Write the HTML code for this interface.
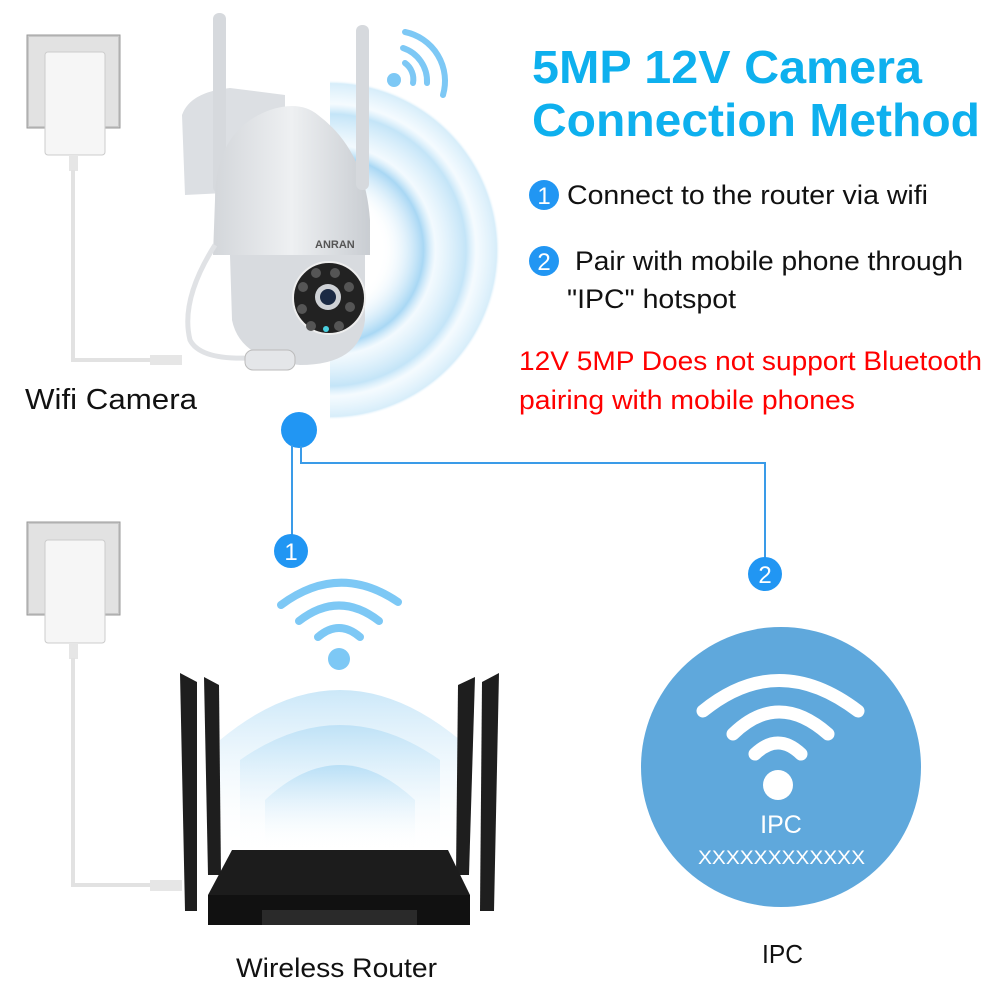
<!DOCTYPE html>
<html><head><meta charset="utf-8"><style>
html,body{margin:0;padding:0;background:#fff;}
svg{display:block;font-family:"Liberation Sans",Arial,sans-serif;}
</style></head><body>
<svg width="1000" height="1000" viewBox="0 0 1000 1000" xmlns="http://www.w3.org/2000/svg">
<defs>
<radialGradient id="cw" cx="330" cy="250" r="170" gradientUnits="userSpaceOnUse">
<stop offset="0.3" stop-color="#fff" stop-opacity="0"/>
<stop offset="0.55" stop-color="#9fd3f3" stop-opacity="0.9"/>
<stop offset="0.62" stop-color="#eaf6fd" stop-opacity="0.6"/>
<stop offset="0.8" stop-color="#b5def6" stop-opacity="0.8"/>
<stop offset="0.86" stop-color="#eef8fe" stop-opacity="0.6"/>
<stop offset="0.98" stop-color="#c6e6f8" stop-opacity="0.7"/>
<stop offset="1" stop-color="#fff" stop-opacity="0"/>
</radialGradient>
<linearGradient id="rwave" x1="0" y1="0" x2="0" y2="1">
<stop offset="0" stop-color="#a9d8f4"/>
<stop offset="1" stop-color="#fff" stop-opacity="0"/>
</linearGradient>
<linearGradient id="cam" x1="0" y1="0" x2="1" y2="0">
<stop offset="0" stop-color="#d3d6da"/>
<stop offset="0.5" stop-color="#eef0f2"/>
<stop offset="1" stop-color="#c9cdd2"/>
</linearGradient>
</defs>

<!-- camera waves -->
<path d="M330 80 A170 170 0 0 1 330 420 Z" fill="url(#cw)"/>

<!-- outlet 1 -->
<rect x="27" y="35" width="93" height="93" fill="#c8c8c8" stroke="#999" stroke-width="1"/>
<rect x="29" y="37" width="89" height="89" fill="#e2e2e2"/>
<rect x="45" y="52" width="60" height="103" rx="3" fill="#f6f6f6" stroke="#ccc"/>
<rect x="69" y="155" width="9" height="16" fill="#e6e6e6"/>
<path d="M73 170 V360 H182" fill="none" stroke="#e2e2e2" stroke-width="4"/>
<rect x="150" y="355" width="32" height="10" fill="#e6e6e6"/>

<!-- camera -->
<path d="M182 115 Q190 92 230 88 L285 95 L285 190 L185 195 Z" fill="#dcdfe3"/>
<rect x="213" y="13" width="13" height="180" rx="6" fill="#d6d9dd"/>
<path d="M215 200 Q215 130 270 110 Q300 100 318 115 Q365 150 370 220 L370 255 L213 255 Z" fill="url(#cam)"/>
<rect x="356" y="25" width="13" height="165" rx="6" fill="#d6d9dd"/>
<path d="M230 255 L365 255 L365 320 Q360 365 300 365 Q240 360 232 320 Z" fill="#d8dbdf"/>
<circle cx="329" cy="298" r="36" fill="#222"/>
<circle cx="329" cy="298" r="36" fill="none" stroke="#eee" stroke-width="2"/>
<circle cx="328" cy="297" r="13" fill="#cfd2d6"/>
<circle cx="328" cy="297" r="8" fill="#1b2a44"/>
<g fill="#555"><circle cx="316" cy="273" r="5"/><circle cx="335" cy="273" r="5"/><circle cx="349" cy="287" r="5"/><circle cx="350" cy="307" r="5"/><circle cx="339" cy="326" r="5"/><circle cx="311" cy="326" r="5"/><circle cx="302" cy="309" r="5"/><circle cx="303" cy="287" r="5"/></g>
<circle cx="326" cy="329" r="3" fill="#4bd0e0"/>
<text x="315" y="248" font-size="11" font-weight="bold" fill="#555">ANRAN</text>
<path d="M215 245 Q180 300 190 340 Q200 360 250 358" fill="none" stroke="#e0e2e5" stroke-width="5"/>
<rect x="245" y="350" width="50" height="20" rx="8" fill="#e4e6e9" stroke="#bbb"/>

<!-- wifi icon near camera -->
<circle cx="394" cy="80" r="7" fill="#7dc8f5"/>
<path d="M405 63 A20 20 0 0 1 413 83" fill="none" stroke="#7dc8f5" stroke-width="6" stroke-linecap="round"/>
<path d="M403 48 A35 35 0 0 1 427 83" fill="none" stroke="#7dc8f5" stroke-width="6" stroke-linecap="round"/>
<path d="M405 32 A50 50 0 0 1 443 95" fill="none" stroke="#7dc8f5" stroke-width="6" stroke-linecap="round"/>

<text x="25" y="409" font-size="29" fill="#111" textLength="172" lengthAdjust="spacingAndGlyphs">Wifi Camera</text>

<!-- title -->
<text x="532" y="83" font-size="46" font-weight="bold" fill="#0eb0ee" textLength="390" lengthAdjust="spacingAndGlyphs">5MP 12V Camera</text>
<text x="532" y="136" font-size="46" font-weight="bold" fill="#0eb0ee" textLength="448" lengthAdjust="spacingAndGlyphs">Connection Method</text>

<circle cx="544" cy="195" r="15" fill="#2196f3"/>
<text x="544" y="204" font-size="24" fill="#fff" text-anchor="middle">1</text>
<text x="567" y="204" font-size="27" fill="#111" textLength="361" lengthAdjust="spacingAndGlyphs">Connect to the router via wifi</text>
<circle cx="544" cy="261" r="15" fill="#2196f3"/>
<text x="544" y="270" font-size="24" fill="#fff" text-anchor="middle">2</text>
<text x="575" y="270" font-size="27" fill="#111" textLength="388" lengthAdjust="spacingAndGlyphs">Pair with mobile phone through</text>
<text x="567" y="308" font-size="27" fill="#111" textLength="169" lengthAdjust="spacingAndGlyphs">"IPC" hotspot</text>
<text x="519" y="370" font-size="27" fill="#f00" textLength="463" lengthAdjust="spacingAndGlyphs">12V 5MP Does not support Bluetooth</text>
<text x="519" y="409" font-size="27" fill="#f00" textLength="336" lengthAdjust="spacingAndGlyphs">pairing with mobile phones</text>

<!-- connectors -->
<circle cx="299" cy="430" r="18" fill="#2196f3"/>
<path d="M292 445 V535" fill="none" stroke="#3a9be8" stroke-width="2"/>
<path d="M301 446 V463 H765 V560" fill="none" stroke="#3a9be8" stroke-width="2"/>
<circle cx="291" cy="551" r="17" fill="#2196f3"/>
<text x="291" y="560" font-size="24" fill="#fff" text-anchor="middle">1</text>
<circle cx="765" cy="574" r="17" fill="#2196f3"/>
<text x="765" y="583" font-size="24" fill="#fff" text-anchor="middle">2</text>

<!-- outlet 2 -->
<rect x="27" y="522" width="93" height="93" fill="#c8c8c8" stroke="#999" stroke-width="1"/>
<rect x="29" y="524" width="89" height="89" fill="#e2e2e2"/>
<rect x="45" y="540" width="60" height="103" rx="3" fill="#f6f6f6" stroke="#ccc"/>
<rect x="69" y="643" width="9" height="16" fill="#e6e6e6"/>
<path d="M73 658 V885 H182" fill="none" stroke="#e2e2e2" stroke-width="4"/>
<rect x="150" y="880" width="32" height="11" fill="#e6e6e6"/>

<!-- router waves -->
<path d="M220 740 Q340 640 460 740 L460 850 L220 850 Z" fill="url(#rwave)" opacity="0.6"/>
<path d="M240 760 Q340 690 440 760 L440 850 L240 850 Z" fill="url(#rwave)" opacity="0.6"/>
<path d="M265 800 Q340 730 415 800 L415 850 L265 850 Z" fill="url(#rwave)" opacity="0.7"/>

<!-- router wifi icon -->
<circle cx="339" cy="659" r="11" fill="#7dc8f5"/>
<path d="M318 637 Q339 619 360 637" fill="none" stroke="#7dc8f5" stroke-width="8" stroke-linecap="round"/>
<path d="M299 621 Q339 590 379 621" fill="none" stroke="#7dc8f5" stroke-width="8" stroke-linecap="round"/>
<path d="M281 605 Q339 562 398 602" fill="none" stroke="#7dc8f5" stroke-width="8" stroke-linecap="round"/>

<!-- router -->
<polygon points="180,673 197,682 197,911 185,911" fill="#1e1e1e"/>
<polygon points="204,677 219,685 221,875 208,875" fill="#1e1e1e"/>
<polygon points="475,677 458,685 456,875 469,875" fill="#1e1e1e"/>
<polygon points="499,673 482,682 480,911 494,911" fill="#1e1e1e"/>
<path d="M232 850 H448 L470 895 V925 H208 V895 Z" fill="#1c1c1c"/>
<rect x="208" y="895" width="262" height="30" fill="#111"/>
<rect x="262" y="910" width="155" height="15" fill="#2a2a2a"/>
<text x="236" y="977" font-size="27" fill="#111" textLength="201" lengthAdjust="spacingAndGlyphs">Wireless Router</text>

<!-- IPC -->
<circle cx="781" cy="767" r="140" fill="#5fa8dc"/>
<circle cx="778" cy="785" r="15" fill="#fff"/>
<path d="M755 754 Q778 732 801 754" fill="none" stroke="#fff" stroke-width="13" stroke-linecap="round"/>
<path d="M733 734 Q778 690 828 734" fill="none" stroke="#fff" stroke-width="13" stroke-linecap="round"/>
<path d="M703 711 Q778 650 858 711" fill="none" stroke="#fff" stroke-width="13" stroke-linecap="round"/>
<text x="781" y="833" font-size="25" fill="#fff" text-anchor="middle">IPC</text>
<text x="698" y="864" font-size="19" fill="#fff" textLength="167" lengthAdjust="spacingAndGlyphs">XXXXXXXXXXXX</text>
<text x="762" y="963" font-size="26" fill="#111" textLength="41" lengthAdjust="spacingAndGlyphs">IPC</text>
</svg>
</body></html>
